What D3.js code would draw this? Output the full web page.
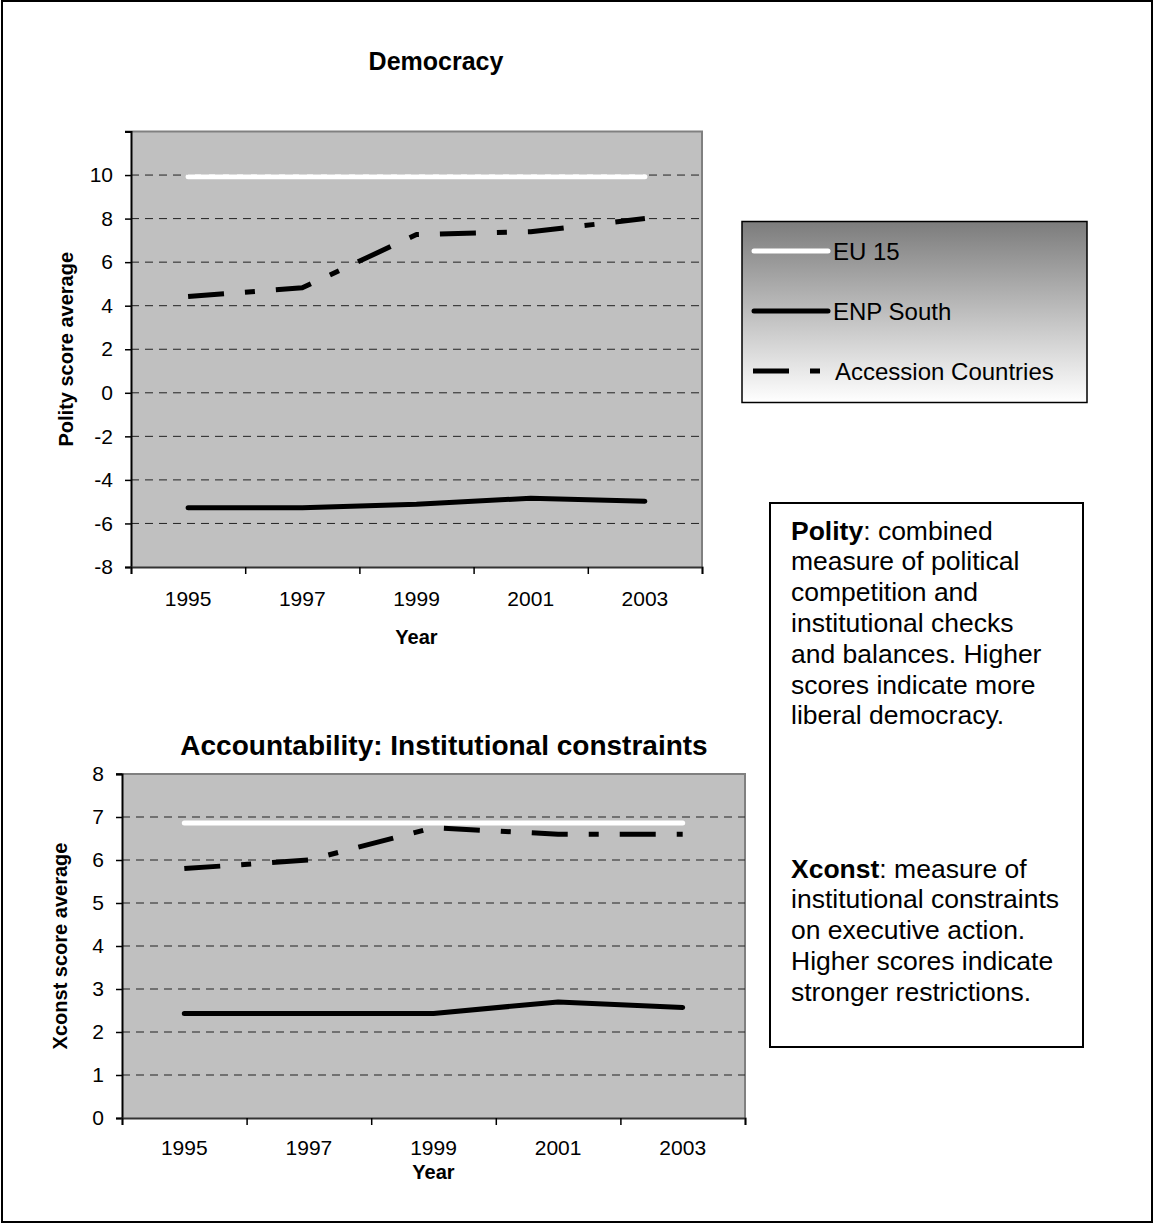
<!DOCTYPE html>
<html>
<head>
<meta charset="utf-8">
<script src="https://cdn.jsdelivr.net/npm/d3@7"></script>
<style>
  html, body { margin: 0; padding: 0; background: #fff; }
  svg { display: block; font-family: Arial, "Liberation Sans", sans-serif; }
</style>
</head>
<body>
<svg id="fig" width="1155" height="1225"></svg>
<script>
// Years on the category axis
const years = ["1995", "1997", "1999", "2001", "2003"];

// Polity score averages
const polityEU15 = [9.92, 9.92, 9.92, 9.92, 9.92];
const polityENPSouth = [-5.28, -5.28, -5.12, -4.84, -4.98];
const polityAccession = [4.42, 4.82, 7.27, 7.4, 8.0];

// Xconst score averages
const xconstEU15 = [6.86, 6.86, 6.86, 6.86, 6.86];
const xconstENPSouth = [2.43, 2.43, 2.43, 2.7, 2.57];
const xconstAccession = [5.8, 6.0, 6.75, 6.6, 6.6];

// Value axis ticks
const polityTicks = [-8, -6, -4, -2, 0, 2, 4, 6, 8, 10];
const polityGrid = [-6, -4, -2, 0, 2, 4, 6, 8, 10];
const xconstTicks = [0, 1, 2, 3, 4, 5, 6, 7, 8];
const xconstGrid = [1, 2, 3, 4, 5, 6, 7];

const seriesNames = ["EU 15", "ENP South", "Accession Countries"];

const svg = d3.select("#fig");

// outer frame
svg.append("rect")
  .attr("x", 2).attr("y", 1).attr("width", 1150).attr("height", 1221)
  .attr("fill", "none").attr("stroke", "#000").attr("stroke-width", 2);

const styles = {
  "EU 15": { stroke: "#fff", dash: null, cap: "round" },
  "ENP South": { stroke: "#000", dash: null, cap: "round" },
  "Accession Countries": { stroke: "#000", dash: "36,21,10,21", cap: "butt" }
};

function drawChart(cfg) {
  const g = svg.append("g");
  const { x0, x1, y0, y1 } = cfg;

  const x = d3.scaleBand().domain(years).range([x0, x1]).padding(0);
  const y = d3.scaleLinear().domain(cfg.domain).range([y1, y0]);

  // plot area
  g.append("rect")
    .attr("x", x0).attr("y", y0).attr("width", x1 - x0).attr("height", y1 - y0)
    .attr("fill", "#c0c0c0");
  g.append("path")
    .attr("d", `M${x0},${y0}H${x1}V${y1}`)
    .attr("fill", "none").attr("stroke", "#808080").attr("stroke-width", 2);

  // dashed gridlines
  g.append("g").selectAll("line").data(cfg.grid).join("line")
    .attr("x1", x0).attr("x2", x1)
    .attr("y1", d => y(d)).attr("y2", d => y(d))
    .attr("stroke", "#222").attr("stroke-width", 1)
    .attr("stroke-dasharray", "8,6");

  // value axis
  const ay = g.append("g").attr("transform", `translate(${x0},0)`)
    .call(d3.axisLeft(y).tickValues(cfg.ticks).tickSize(6).tickPadding(12).tickFormat(d => String(d)));
  ay.select(".domain").attr("stroke", "#000").attr("stroke-width", 2);
  ay.selectAll(".tick line").attr("stroke", "#000").attr("stroke-width", 1.5);
  ay.selectAll(".tick text").attr("font-size", 21).attr("fill", "#000")
    .attr("font-family", "Arial, 'Liberation Sans', sans-serif");
  // tick at top of value axis
  ay.append("line").attr("x1", -6).attr("x2", 0).attr("y1", y0).attr("y2", y0)
    .attr("stroke", "#000").attr("stroke-width", 1.5);

  // category axis: tick marks at band boundaries, labels centred in bands
  const bounds = d3.scaleLinear().domain([0, years.length]).range([x0, x1]);
  const axb = g.append("g").attr("transform", `translate(0,${y1})`)
    .call(d3.axisBottom(bounds).ticks(years.length).tickSize(7).tickFormat(""));
  axb.select(".domain").attr("stroke", "#333").attr("stroke-width", 2);
  axb.selectAll(".tick line").attr("stroke", "#000").attr("stroke-width", 1.5);

  const axl = g.append("g").attr("transform", `translate(0,${y1})`)
    .call(d3.axisBottom(x).tickSize(0).tickPadding(cfg.labelPad));
  axl.select(".domain").remove();
  axl.selectAll(".tick text").attr("font-size", 21).attr("fill", "#000")
    .attr("font-family", "Arial, 'Liberation Sans', sans-serif");

  // series
  const line = d3.line().x((d, i) => x(years[i]) + x.bandwidth() / 2).y(d => y(d));
  cfg.series.forEach((vals, k) => {
    const st = styles[seriesNames[k]];
    g.append("path")
      .datum(vals)
      .attr("d", line)
      .attr("fill", "none")
      .attr("stroke", st.stroke)
      .attr("stroke-width", 5)
      .attr("stroke-linecap", st.cap)
      .attr("stroke-linejoin", "round")
      .attr("stroke-dasharray", st.dash);
  });

  // titles
  g.append("text")
    .attr("x", cfg.titleX).attr("y", cfg.titleY)
    .attr("text-anchor", "middle").attr("font-weight", "bold")
    .attr("font-size", cfg.titleSize)
    .text(cfg.title);
  g.append("text")
    .attr("x", (x0 + x1) / 2).attr("y", cfg.xTitleY)
    .attr("text-anchor", "middle").attr("font-weight", "bold")
    .attr("font-size", 20)
    .text("Year");
  g.append("text")
    .attr("transform", `translate(${cfg.yTitleX},${(y0 + y1) / 2}) rotate(-90)`)
    .attr("text-anchor", "middle").attr("font-weight", "bold")
    .attr("font-size", 20)
    .text(cfg.yTitle);
}

drawChart({
  x0: 131, x1: 702, y0: 131.5, y1: 567,
  domain: [-8, 12], ticks: polityTicks, grid: polityGrid,
  series: [polityEU15, polityENPSouth, polityAccession],
  labelPad: 24,
  title: "Democracy", titleX: 436, titleY: 70, titleSize: 25,
  xTitleY: 644, yTitle: "Polity score average", yTitleX: 73
});

drawChart({
  x0: 122, x1: 745, y0: 774, y1: 1118,
  domain: [0, 8], ticks: xconstTicks, grid: xconstGrid,
  series: [xconstEU15, xconstENPSouth, xconstAccession],
  labelPad: 22,
  title: "Accountability: Institutional constraints", titleX: 444, titleY: 755, titleSize: 28,
  xTitleY: 1179, yTitle: "Xconst score average", yTitleX: 67
});

// legend
const defs = svg.append("defs");
const grad = defs.append("linearGradient").attr("id", "legendFill")
  .attr("x1", 0).attr("y1", 0).attr("x2", 0).attr("y2", 1);
grad.append("stop").attr("offset", "0%").attr("stop-color", "#7c7c7c");
grad.append("stop").attr("offset", "100%").attr("stop-color", "#ffffff");

const lg = svg.append("g");
lg.append("rect")
  .attr("x", 742).attr("y", 221.5).attr("width", 345).attr("height", 181)
  .attr("fill", "url(#legendFill)").attr("stroke", "#000").attr("stroke-width", 1.5);
const legendY = d3.scalePoint().domain(seriesNames).range([251, 371]);
seriesNames.forEach(name => {
  const st = styles[name];
  const yy = legendY(name);
  lg.append("line")
    .attr("x1", name === "Accession Countries" ? 753 : 754)
    .attr("x2", name === "Accession Countries" ? 821 : 828)
    .attr("y1", yy).attr("y2", yy)
    .attr("stroke", st.stroke).attr("stroke-width", 5)
    .attr("stroke-linecap", st.cap)
    .attr("stroke-dasharray", st.dash);
  lg.append("text")
    .attr("x", name === "Accession Countries" ? 835 : 833)
    .attr("y", yy + 9)
    .attr("font-size", 24)
    .text(name);
});

// definitions box
const tb = svg.append("g");
tb.append("rect")
  .attr("x", 770).attr("y", 503).attr("width", 313).attr("height", 544)
  .attr("fill", "#fff").attr("stroke", "#000").attr("stroke-width", 2);

const polityNote = [
  [["Polity", true], [": combined", false]],
  [["measure of political", false]],
  [["competition and", false]],
  [["institutional checks", false]],
  [["and balances. Higher", false]],
  [["scores indicate more", false]],
  [["liberal democracy.", false]]
];
const xconstNote = [
  [["Xconst", true], [": measure of", false]],
  [["institutional constraints", false]],
  [["on executive action.", false]],
  [["Higher scores indicate", false]],
  [["stronger restrictions.", false]]
];
function writeNote(lines, startY) {
  lines.forEach((parts, i) => {
    const t = tb.append("text")
      .attr("x", 791).attr("y", startY + i * 30.8)
      .attr("font-size", 26.5);
    parts.forEach(([s, bold]) => {
      t.append("tspan").attr("font-weight", bold ? "bold" : "normal").text(s);
    });
  });
}
writeNote(polityNote, 539.5);
writeNote(xconstNote, 877.5);
</script>
</body>
</html>
